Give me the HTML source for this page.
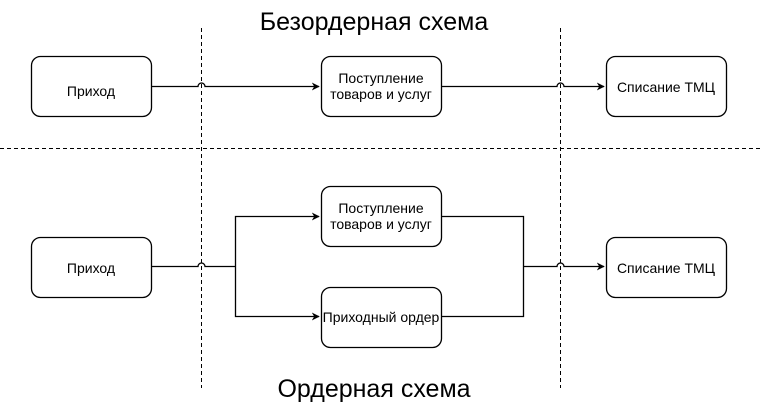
<!DOCTYPE html>
<html><head><meta charset="utf-8"><style>
html,body{margin:0;padding:0;background:#fff}
svg{display:block}
text{font-family:"Liberation Sans",Arial,sans-serif;fill:#000}
</style></head><body>
<svg width="762" height="407" viewBox="0 0 762 407" xmlns="http://www.w3.org/2000/svg">
<defs><marker id="a" viewBox="0 0 10 10" refX="9" refY="5" markerWidth="8" markerHeight="8" orient="auto" markerUnits="userSpaceOnUse"><path d="M0,0 L10,5 L0,10 L3,5 z" fill="#000"/></marker></defs>
<text x="374" y="30" font-size="25" text-anchor="middle">Безордерная схема</text>
<text x="374" y="397" font-size="25" text-anchor="middle">Ордерная схема</text>
<g stroke="#000" stroke-width="1" stroke-dasharray="4,3" fill="none">
<line x1="201.5" y1="28" x2="201.5" y2="388"/>
<line x1="560.5" y1="28" x2="560.5" y2="388"/>
<line x1="0" y1="148.5" x2="762" y2="148.5"/>
</g>
<g stroke="#000" stroke-width="1.3" fill="none">
<path d="M151,86.5 H198 a3.5,3.5 0 0 1 7,0 H319" marker-end="url(#a)"/>
<path d="M441,86.5 H557 a3.5,3.5 0 0 1 7,0 H604" marker-end="url(#a)"/>
<path d="M151,266.5 H198 a3.5,3.5 0 0 1 7,0 H235.5"/>
<path d="M235.5,266.5 V216.5 H319" marker-end="url(#a)"/>
<path d="M235.5,266.5 V316.5 H319" marker-end="url(#a)"/>
<path d="M441,216.5 H523.5 V316.5 H441"/>
<path d="M523.5,266.5 H557 a3.5,3.5 0 0 1 7,0 H604" marker-end="url(#a)"/>
</g>
<g stroke="#000" stroke-width="1.3" fill="#fff">
<rect x="31.5" y="56.5" width="120" height="60" rx="9"/>
<rect x="321.5" y="56.5" width="120" height="60" rx="9"/>
<rect x="606.5" y="56.5" width="120" height="60" rx="9"/>
<rect x="31.5" y="237.5" width="120" height="60" rx="9"/>
<rect x="321.5" y="186.5" width="120" height="60" rx="9"/>
<rect x="321.5" y="287.5" width="120" height="60" rx="9"/>
<rect x="606.5" y="237.5" width="120" height="60" rx="9"/>
</g>
<g font-size="14" text-anchor="middle">
<text x="91" y="96">Приход</text>
<text x="381" y="83">Поступление</text>
<text x="381" y="99">товаров и услуг</text>
<text x="666" y="92">Списание ТМЦ</text>
<text x="91" y="273">Приход</text>
<text x="381" y="213">Поступление</text>
<text x="381" y="229">товаров и услуг</text>
<text x="381" y="322">Приходный ордер</text>
<text x="666" y="273">Списание ТМЦ</text>
</g>
</svg>
</body></html>
